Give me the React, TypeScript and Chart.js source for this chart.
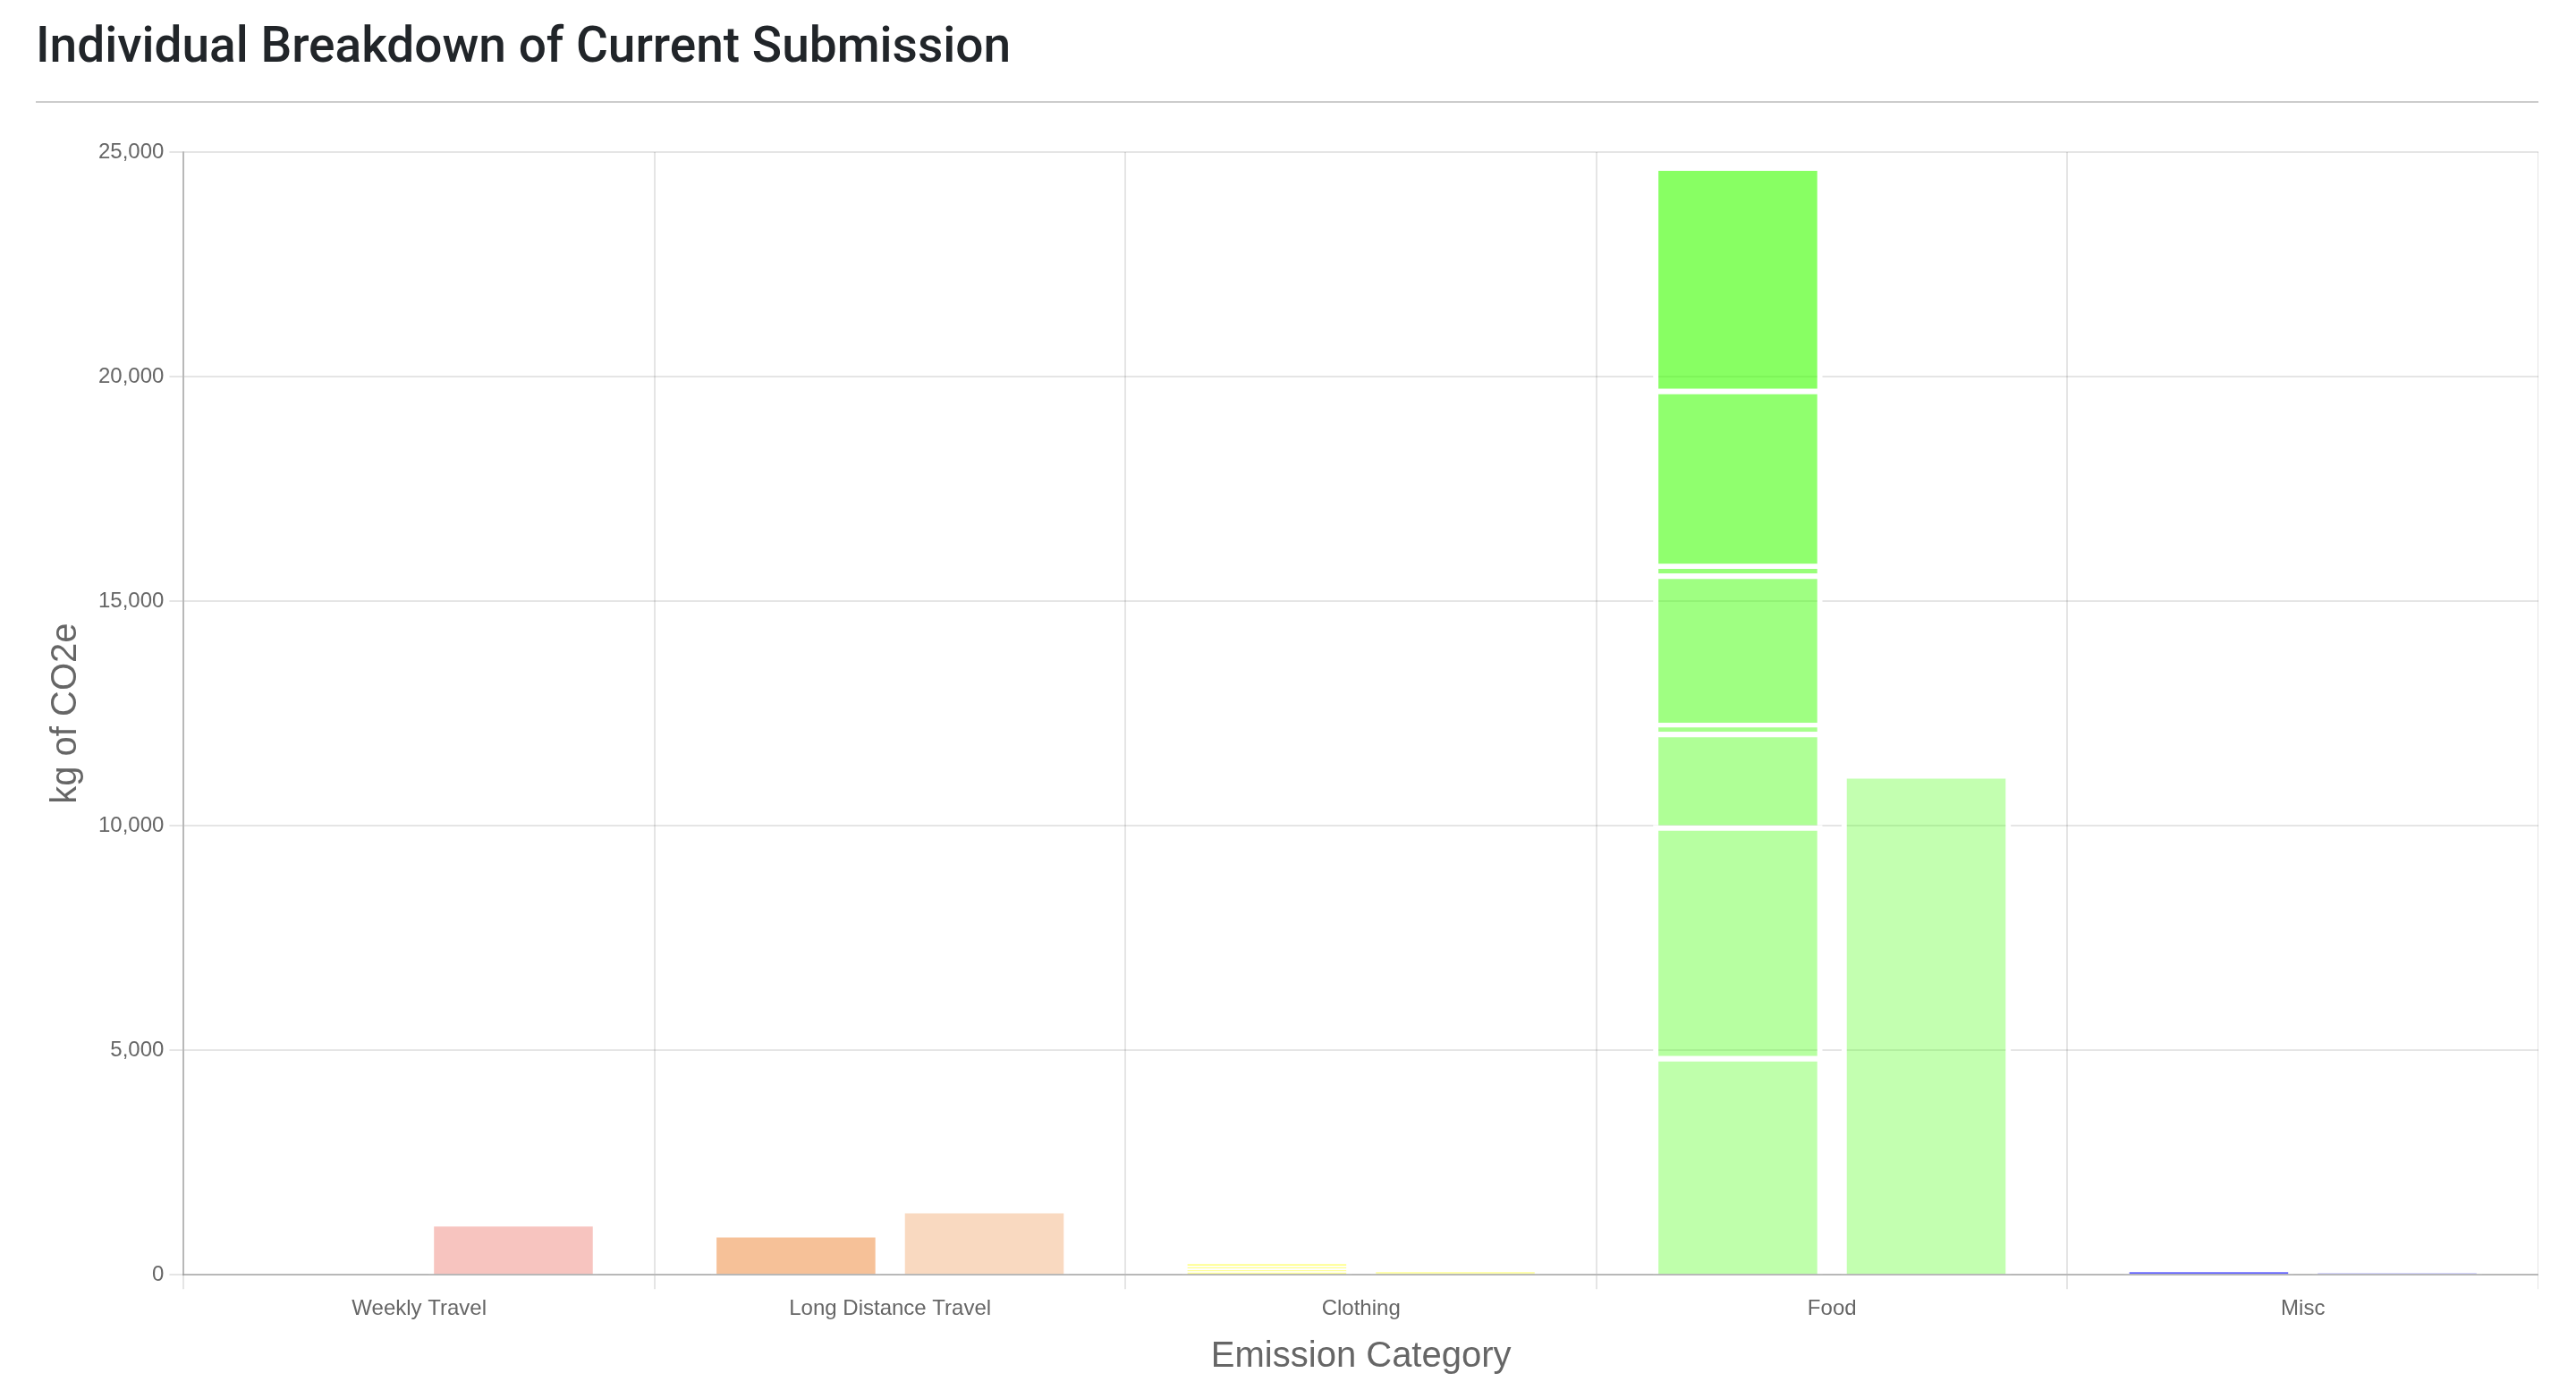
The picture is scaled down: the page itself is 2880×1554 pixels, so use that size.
import React, { useEffect, useRef } from 'react';
import { Chart, registerables } from 'chart.js';

Chart.register(...registerables);

// ---- data ----
const categories = ['Weekly Travel', 'Long Distance Travel', 'Clothing', 'Food', 'Misc'];

// current submission, broken down into sub-items (bottom to top)
const weeklyTravelCurrent: number[] = [];
const longDistanceTravelCurrent = [950];
const clothingCurrent = [73, 65, 65, 67];
const foodCurrent = [4867, 5139, 2083, 199, 3327, 212, 3901, 4974];
const miscCurrent = [95];

// comparison (average) totals per category
const averageTotals = [1196, 1488, 110, 11170, 50];

const currentByCategory = [
  weeklyTravelCurrent,
  longDistanceTravelCurrent,
  clothingCurrent,
  foodCurrent,
  miscCurrent,
];

// ---- styles ----
const baseColors = ['231,76,60', '235,120,30', '255,255,0', '60,255,0', '0,0,255'];
const currentAlphas = [
  [0.4],
  [0.46],
  [0.4, 0.42, 0.44, 0.46],
  [0.33, 0.37, 0.41, 0.45, 0.49, 0.53, 0.57, 0.61],
  [0.6],
];
const averageAlphas = [0.33, 0.28, 0.32, 0.31, 0.32];

const FONT = "'Liberation Sans', Arial, Helvetica, sans-serif";

export default function App() {
  const canvasRef = useRef<HTMLCanvasElement | null>(null);

  useEffect(() => {
    if (!canvasRef.current) return;

    const datasets: any[] = [];
    currentByCategory.forEach((values, ci) => {
      values.forEach((v, j) => {
        const data = categories.map((_, k) => (k === ci ? v : null));
        datasets.push({
          label: `${categories[ci]} ${j + 1}`,
          data,
          stack: 'current',
          backgroundColor: `rgba(${baseColors[ci]},${currentAlphas[ci][j] ?? 0.4})`,
          borderColor: '#ffffff',
          borderWidth: 6,
        });
      });
    });
    datasets.push({
      label: 'Average',
      data: averageTotals,
      stack: 'average',
      backgroundColor: averageTotals.map((_, i) => `rgba(${baseColors[i]},${averageAlphas[i]})`),
      borderColor: '#ffffff',
      borderWidth: 6,
    });

    const chart = new Chart(canvasRef.current, {
      type: 'bar',
      data: { labels: categories, datasets },
      options: {
        animation: false,
        responsive: true,
        maintainAspectRatio: false,
        devicePixelRatio: 1,
        layout: { padding: { top: 28 } },
        plugins: {
          legend: { display: false },
          tooltip: { enabled: false },
          title: { display: false },
        },
        scales: {
          x: {
            stacked: true,
            grid: { lineWidth: 2, tickLength: 16, color: 'rgba(0,0,0,0.1)' },
            border: { width: 2, color: 'rgba(0,0,0,0.2)' },
            ticks: { padding: 8, color: '#666', font: { family: FONT, size: 24 } },
            title: {
              display: true,
              text: 'Emission Category',
              color: '#666',
              font: { family: FONT, size: 40 },
              padding: { top: 7, bottom: 8 },
            },
          },
          y: {
            stacked: true,
            beginAtZero: true,
            grid: { lineWidth: 2, tickLength: 16, color: 'rgba(0,0,0,0.1)' },
            border: { width: 2, color: 'rgba(0,0,0,0.2)' },
            ticks: { stepSize: 5000, padding: 6, color: '#666', font: { family: FONT, size: 24 } },
            title: {
              display: true,
              text: 'kg of CO2e',
              color: '#666',
              font: { family: FONT, size: 40 },
              padding: { top: 10, bottom: 6 },
            },
          },
        },
      },
    });
    return () => chart.destroy();
  }, []);

  return (
    <div style={{ padding: '9px 0 0 32px', background: '#fff' }}>
      <h1
        style={{
          margin: 0,
          fontSize: 55,
          fontWeight: 500,
          lineHeight: 1.22,
          color: '#212529',
          fontFamily: "Roboto, 'Liberation Sans', Arial, sans-serif",
        }}
      >
        Individual Breakdown of Current Submission
      </h1>
      <div style={{ width: 2798, height: 2, background: '#cccccc', marginTop: 29 }} />
      <div style={{ position: 'relative', width: 2798, height: 1407, marginTop: 27 }}>
        <canvas ref={canvasRef} />
      </div>
    </div>
  );
}
